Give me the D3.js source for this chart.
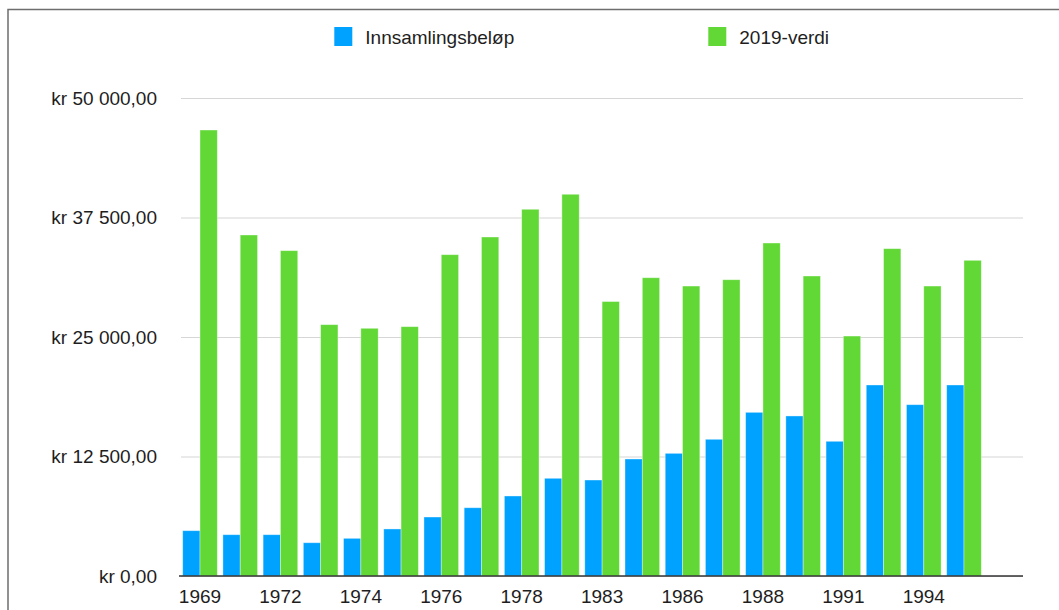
<!DOCTYPE html>
<html>
<head>
<meta charset="utf-8">
<script src="https://cdn.jsdelivr.net/npm/d3@7"></script>
<style>
  body { margin: 0; background: #fff; }
  text { font-family: "Liberation Sans", Arial, Helvetica, sans-serif; fill: #1e1e1e; }
</style>
</head>
<body>
<div id="chart"></div>
<script>
// years (only every second one is labelled on the axis)
const years = ["1969", "1971", "1972", "1973", "1974", "1975", "1976", "1977", "1978", "1980",
               "1983", "1985", "1986", "1987", "1988", "1990", "1991", "1993", "1994", "1996"]
const seriesNames = ["Innsamlingsbeløp", "2019-verdi"]
const collected = [4740, 4320, 4320, 3480, 3940, 4920, 6170, 7140, 8370, 10220,
                   10040, 12240, 12830, 14300, 17120, 16740, 14090, 19980, 17920, 19980]
const value2019 = [46650, 35670, 34030, 26290, 25910, 26080, 33610, 35460, 38360, 39930,
                   28710, 31200, 30330, 30990, 34830, 31380, 25100, 34240, 30330, 33020]
const yTicks = [0, 12500, 25000, 37500, 50000]
const colors = ["#00a2ff", "#61d836"]

const W = 1059, H = 610

const svg = d3.select("#chart")
  .append("svg")
  .attr("width", W)
  .attr("height", H)

// frame around the chart (only top and left edges are visible)
svg.append("rect")
  .attr("x", 8)
  .attr("y", 9.5)
  .attr("width", W + 20)
  .attr("height", H + 20)
  .attr("fill", "none")
  .attr("stroke", "#6e6e6e")
  .attr("stroke-width", 1.5)

const x = d3.scaleBand()
  .domain(years)
  .range([182.7, 981.3])
  .paddingInner(0.139)
  .paddingOuter(0)
  .align(0)

const xInner = d3.scaleBand()
  .domain(seriesNames)
  .range([0, x.bandwidth()])

const y = d3.scaleLinear()
  .domain([0, 50000])
  .range([576, 98])

const locale = d3.formatLocale({ decimal: ",", thousands: "\u00a0", grouping: [3], currency: ["kr ", ""] })
const fmt = locale.format(",.2f")

// grid + y labels
const yAxis = svg.append("g")
  .attr("class", "y-axis")
  .attr("transform", "translate(181,0)")
  .call(d3.axisLeft(y).tickValues(yTicks).tickSize(-(1023 - 181)).tickPadding(24).tickFormat((d) => "kr " + fmt(d)))

yAxis.select(".domain").remove()
yAxis.selectAll(".tick line")
  .attr("stroke", "#d6d6d6")
  .attr("stroke-width", 1.2)
yAxis.selectAll(".tick text")
  .attr("font-size", "19px")
  .attr("fill", "#1e1e1e")

const table = years.map((yr, i) => ({ year: yr, values: [collected[i], value2019[i]] }))

const groups = svg.append("g")
  .selectAll("g")
  .data(table)
  .enter()
  .append("g")
  .attr("transform", (d) => `translate(${x(d.year)},0)`)

groups.selectAll("rect")
  .data((d) => d.values.map((v, k) => ({ name: seriesNames[k], value: v, color: colors[k] })))
  .enter()
  .append("rect")
  .attr("x", (d) => xInner(d.name))
  .attr("y", (d) => y(d.value))
  .attr("width", xInner.bandwidth())
  .attr("height", (d) => y(0) - y(d.value))
  .attr("fill", (d) => d.color)
  .attr("stroke", "rgba(255,255,255,0.45)")
  .attr("stroke-width", 0.8)

// baseline
svg.append("line")
  .attr("x1", 179)
  .attr("x2", 1023)
  .attr("y1", y(0))
  .attr("y2", y(0))
  .attr("stroke", "#333")
  .attr("stroke-width", 1.6)

// x labels
const xAxis = svg.append("g")
  .attr("class", "x-axis")
  .attr("transform", `translate(0,${y(0)})`)
  .call(d3.axisBottom(x).tickValues(years.filter((d, i) => i % 2 === 0)).tickSize(0).tickPadding(13.5))

xAxis.select(".domain").remove()
xAxis.selectAll(".tick text")
  .attr("font-size", "19px")
  .attr("fill", "#1e1e1e")

// legend
const legendX = [334.3, 708.3]
const legend = svg.append("g")
  .selectAll("g")
  .data(seriesNames)
  .enter()
  .append("g")
  .attr("transform", (d, i) => `translate(${legendX[i]},27)`)

legend.append("rect")
  .attr("width", 18)
  .attr("height", 19)
  .attr("fill", (d, i) => colors[i])

legend.append("text")
  .attr("x", 31)
  .attr("y", 10)
  .attr("dy", "0.35em")
  .attr("font-size", "19px")
  .text((d) => d)
</script>
</body>
</html>
